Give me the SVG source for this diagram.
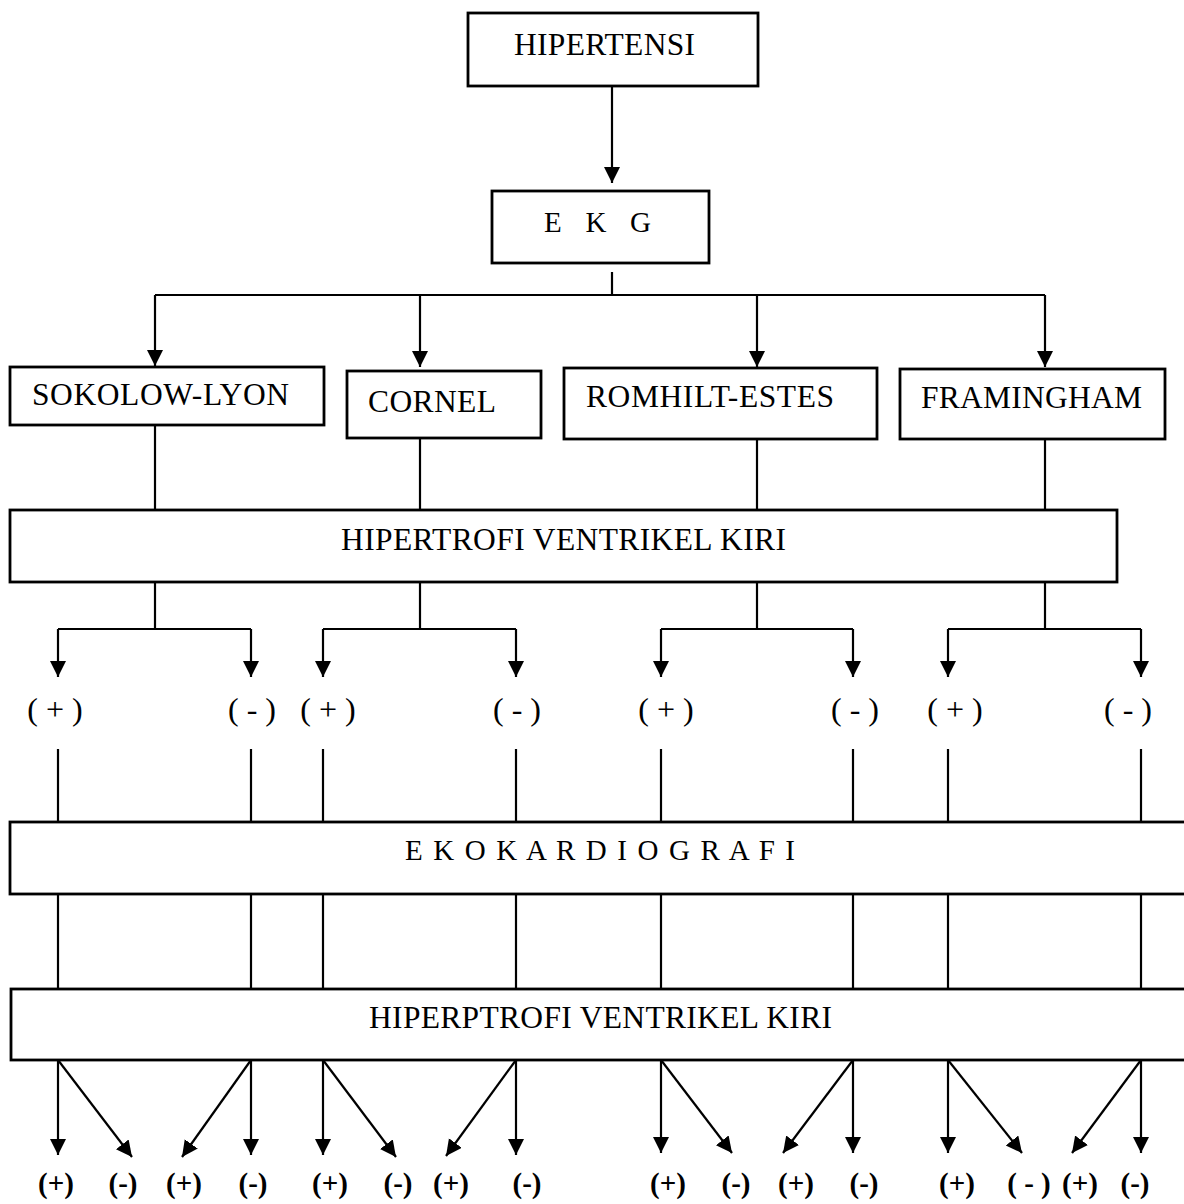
<svg xmlns="http://www.w3.org/2000/svg" width="1184" height="1204" viewBox="0 0 1184 1204">
<style>
.box{fill:#fff;stroke:#000;stroke-width:2.8}
.t{font-family:"Liberation Serif","Times New Roman",serif;fill:#000}
.big{font-size:31.5px}
.lbl{font-size:32px;text-anchor:middle}
.blbl{font-size:29px;font-weight:bold;text-anchor:middle}
.ln{stroke:#000;stroke-width:2.2;fill:none}
.ar{stroke:#000;stroke-width:2.2;fill:none;marker-end:url(#ah)}
</style>
<defs>
<marker id="ah" markerUnits="userSpaceOnUse" markerWidth="18" markerHeight="18" refX="16" refY="8" orient="auto">
<path d="M0,0 L16,8 L0,16 z" fill="#000"/>
</marker>
</defs>
<rect width="1184" height="1204" fill="#fff"/>

<g id="connectors">
<line class="ar" x1="612" y1="86" x2="612" y2="183"/>
<line class="ln" x1="612" y1="272" x2="612" y2="295"/>
<line class="ln" x1="155" y1="295" x2="1045" y2="295"/>
<line class="ar" x1="155" y1="295" x2="155" y2="366"/>
<line class="ar" x1="420" y1="295" x2="420" y2="367"/>
<line class="ar" x1="757" y1="295" x2="757" y2="367"/>
<line class="ar" x1="1045" y1="295" x2="1045" y2="367"/>
<line class="ln" x1="155" y1="415" x2="155" y2="510"/>
<line class="ln" x1="420" y1="438" x2="420" y2="510"/>
<line class="ln" x1="757" y1="439" x2="757" y2="510"/>
<line class="ln" x1="1045" y1="439" x2="1045" y2="510"/>
<line class="ln" x1="155" y1="582" x2="155" y2="629"/>
<line class="ln" x1="420" y1="582" x2="420" y2="629"/>
<line class="ln" x1="757" y1="582" x2="757" y2="629"/>
<line class="ln" x1="1045" y1="582" x2="1045" y2="629"/>
<line class="ln" x1="58" y1="629" x2="251" y2="629"/>
<line class="ln" x1="323" y1="629" x2="516" y2="629"/>
<line class="ln" x1="661" y1="629" x2="853" y2="629"/>
<line class="ln" x1="948" y1="629" x2="1141" y2="629"/>
<line class="ar" x1="58" y1="629" x2="58" y2="677"/>
<line class="ar" x1="251" y1="629" x2="251" y2="677"/>
<line class="ar" x1="323" y1="629" x2="323" y2="677"/>
<line class="ar" x1="516" y1="629" x2="516" y2="677"/>
<line class="ar" x1="661" y1="629" x2="661" y2="677"/>
<line class="ar" x1="853" y1="629" x2="853" y2="677"/>
<line class="ar" x1="948" y1="629" x2="948" y2="677"/>
<line class="ar" x1="1141" y1="629" x2="1141" y2="677"/>
<line class="ln" x1="58" y1="749" x2="58" y2="822"/>
<line class="ln" x1="251" y1="749" x2="251" y2="822"/>
<line class="ln" x1="323" y1="749" x2="323" y2="822"/>
<line class="ln" x1="516" y1="749" x2="516" y2="822"/>
<line class="ln" x1="661" y1="749" x2="661" y2="822"/>
<line class="ln" x1="853" y1="749" x2="853" y2="822"/>
<line class="ln" x1="948" y1="749" x2="948" y2="822"/>
<line class="ln" x1="1141" y1="749" x2="1141" y2="822"/>
<line class="ln" x1="58" y1="894" x2="58" y2="989"/>
<line class="ln" x1="251" y1="894" x2="251" y2="989"/>
<line class="ln" x1="323" y1="894" x2="323" y2="989"/>
<line class="ln" x1="516" y1="894" x2="516" y2="989"/>
<line class="ln" x1="661" y1="894" x2="661" y2="989"/>
<line class="ln" x1="853" y1="894" x2="853" y2="989"/>
<line class="ln" x1="948" y1="894" x2="948" y2="989"/>
<line class="ln" x1="1141" y1="894" x2="1141" y2="989"/>
<line class="ar" x1="58" y1="1060" x2="58" y2="1155"/>
<line class="ar" x1="251" y1="1060" x2="251" y2="1155"/>
<line class="ar" x1="323" y1="1060" x2="323" y2="1155"/>
<line class="ar" x1="516" y1="1060" x2="516" y2="1155"/>
<line class="ar" x1="661" y1="1060" x2="661" y2="1153"/>
<line class="ar" x1="853" y1="1060" x2="853" y2="1153"/>
<line class="ar" x1="948" y1="1060" x2="948" y2="1153"/>
<line class="ar" x1="1141" y1="1060" x2="1141" y2="1153"/>
<line class="ar" x1="58" y1="1060" x2="132" y2="1157"/>
<line class="ar" x1="251" y1="1060" x2="182" y2="1157"/>
<line class="ar" x1="323" y1="1060" x2="396" y2="1157"/>
<line class="ar" x1="516" y1="1060" x2="446" y2="1156"/>
<line class="ar" x1="661" y1="1060" x2="732" y2="1153"/>
<line class="ar" x1="853" y1="1060" x2="783" y2="1153"/>
<line class="ar" x1="948" y1="1060" x2="1022" y2="1153"/>
<line class="ar" x1="1141" y1="1060" x2="1072" y2="1153"/>
</g>

<g id="n-hipertensi">
<rect class="box" x="468" y="13" width="290" height="73"/>
<text class="t big" x="514" y="55" textLength="181">HIPERTENSI</text>
</g>
<g id="n-ekg">
<rect class="box" x="492" y="191" width="217" height="72"/>
<text class="t" font-size="29" x="544" y="232" textLength="107">E K G</text>
</g>
<g id="n-sokolow">
<rect class="box" x="10" y="367" width="314" height="58"/>
<text class="t big" x="32" y="405" textLength="257">SOKOLOW-LYON</text>
</g>
<g id="n-cornel">
<rect class="box" x="347" y="371" width="194" height="67"/>
<text class="t big" x="368" y="412" textLength="128">CORNEL</text>
</g>
<g id="n-romhilt">
<rect class="box" x="564" y="368" width="313" height="71"/>
<text class="t big" x="586" y="407" textLength="248">ROMHILT-ESTES</text>
</g>
<g id="n-framingham">
<rect class="box" x="900" y="369" width="265" height="70"/>
<text class="t big" x="921" y="408" textLength="221">FRAMINGHAM</text>
</g>
<g id="n-hvk1">
<rect class="box" x="10" y="510" width="1107" height="72"/>
<text class="t big" x="341" y="550" textLength="445">HIPERTROFI VENTRIKEL KIRI</text>
</g>
<g id="n-labels1">
<text class="t lbl" x="55" y="720">( + )</text>
<text class="t lbl" x="252" y="720">( - )</text>
<text class="t lbl" x="328" y="720">( + )</text>
<text class="t lbl" x="517" y="720">( - )</text>
<text class="t lbl" x="666" y="720">( + )</text>
<text class="t lbl" x="855" y="720">( - )</text>
<text class="t lbl" x="955" y="720">( + )</text>
<text class="t lbl" x="1128" y="720">( - )</text>
</g>
<g id="n-ekokardiografi">
<rect class="box" x="10" y="822" width="1184" height="72"/>
<text class="t" font-size="29" x="405" y="860" textLength="390">E K O K A R D I O G R A F I</text>
</g>
<g id="n-hvk2">
<rect class="box" x="11" y="989" width="1184" height="71"/>
<text class="t big" x="369" y="1028" textLength="463">HIPERPTROFI VENTRIKEL KIRI</text>
</g>
<g id="n-labels2">
<text class="t blbl" x="56" y="1193">(+)</text>
<text class="t blbl" x="123" y="1193">(-)</text>
<text class="t blbl" x="184" y="1193">(+)</text>
<text class="t blbl" x="253" y="1193">(-)</text>
<text class="t blbl" x="330" y="1193">(+)</text>
<text class="t blbl" x="398" y="1193">(-)</text>
<text class="t blbl" x="451" y="1193">(+)</text>
<text class="t blbl" x="527" y="1193">(-)</text>
<text class="t blbl" x="668" y="1193">(+)</text>
<text class="t blbl" x="736" y="1193">(-)</text>
<text class="t blbl" x="796" y="1193">(+)</text>
<text class="t blbl" x="864" y="1193">(-)</text>
<text class="t blbl" x="957" y="1193">(+)</text>
<text class="t blbl" x="1029" y="1193">( - )</text>
<text class="t blbl" x="1080" y="1193">(+)</text>
<text class="t blbl" x="1135" y="1193">(-)</text>
</g>
</svg>
